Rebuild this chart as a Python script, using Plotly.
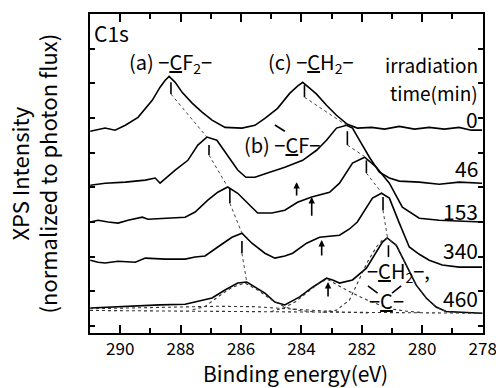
import plotly.graph_objects as go

# ---------------- data (binding energy eV, intensity a.u.) ----------------
times = ["0", "46", "153", "340", "460"]

E0 = [290.99, 290.50, 290.17, 289.83, 289.41, 288.94, 288.68, 288.51, 288.38, 288.18, 287.95, 287.62, 287.29, 286.96,
      286.53, 285.97, 285.54, 285.21, 284.79, 284.39, 284.13, 283.96, 283.73, 283.50, 283.17, 282.84, 282.48, 282.15,
      281.68, 281.25, 280.76, 280.26, 279.77, 279.27, 278.78, 278.38, 278.02]
I0 = [5.62, 5.71, 5.65, 5.79, 6.02, 6.51, 6.89, 7.09, 7.20, 7.03, 6.74, 6.43, 6.17, 5.94,
      5.73, 5.71, 5.79, 5.99, 6.28, 6.71, 6.92, 7.03, 6.86, 6.69, 6.37, 6.08, 5.82, 5.71,
      5.73, 5.68, 5.76, 5.68, 5.73, 5.68, 5.73, 5.65, 5.65]

E46 = [290.99, 290.50, 289.83, 289.17, 288.84, 288.68, 288.18, 287.76, 287.43, 287.13, 286.80, 286.44, 286.11, 285.84,
       285.54, 285.15, 284.55, 283.96, 283.50, 283.17, 282.84, 282.51, 282.31, 282.08, 281.75, 281.42, 281.09, 280.76,
       280.10, 279.44, 278.78, 278.02]
I46 = [4.06, 4.12, 4.15, 4.21, 4.27, 4.12, 4.50, 4.78, 5.22, 5.45, 5.36, 4.90, 4.50, 4.29,
       4.29, 4.41, 4.58, 4.78, 5.07, 5.36, 5.71, 5.79, 5.71, 5.36, 4.87, 4.44, 4.27, 4.18,
       4.15, 4.09, 4.15, 4.12]

E153 = [290.99, 290.73, 290.40, 290.07, 289.74, 289.27, 289.08, 288.51, 287.85, 287.52, 287.10, 286.77, 286.44, 286.11,
        285.78, 285.45, 284.98, 284.55, 284.13, 283.66, 283.07, 282.74, 282.31, 281.91, 281.52, 281.09, 280.66, 280.10,
        279.44, 278.78, 278.02]
I153 = [3.00, 3.05, 3.00, 2.97, 3.05, 3.14, 3.08, 3.11, 3.14, 3.29, 3.63, 3.86, 4.01, 3.83,
        3.54, 3.26, 3.26, 3.34, 3.57, 3.72, 3.86, 4.12, 4.70, 4.87, 4.58, 4.12, 3.43, 3.11,
        3.05, 3.03, 3.00]

E340 = [290.99, 290.73, 290.50, 290.07, 289.50, 289.17, 288.51, 287.85, 287.52, 287.19, 286.77, 286.30, 285.97, 285.64,
        285.21, 284.88, 284.55, 284.29, 283.83, 283.40, 282.74, 282.41, 282.15, 281.91, 281.65, 281.35, 281.09, 280.76,
        280.43, 280.10, 279.77, 279.34, 278.78, 278.02]
I340 = [1.90, 1.84, 1.82, 1.87, 1.84, 1.96, 1.93, 1.93, 1.99, 2.02, 2.28, 2.56, 2.68, 2.39,
        2.10, 1.96, 2.02, 2.10, 2.39, 2.56, 2.62, 2.80, 3.00, 3.34, 3.69, 3.83, 3.69, 2.97,
        2.28, 2.07, 1.90, 1.76, 1.70, 1.70]

E460 = [290.99, 290.33, 289.50, 288.68, 287.85, 287.36, 286.96, 286.53, 286.11, 285.81, 285.51, 285.21, 284.88, 284.55,
        284.06, 283.63, 283.17, 282.97, 282.74, 282.31, 281.85, 281.52, 281.32, 281.16, 280.86, 280.53, 280.20, 279.87,
        279.54, 279.21, 278.61, 278.02]
I460 = [0.52, 0.55, 0.58, 0.61, 0.63, 0.72, 0.81, 1.04, 1.24, 1.27, 1.12, 0.95, 0.69, 0.61,
        0.84, 1.12, 1.38, 1.33, 1.24, 1.33, 1.67, 2.13, 2.42, 2.54, 2.33, 1.76, 1.18, 0.81,
        0.55, 0.42, 0.40, 0.37]

# fitted components of the 460 min spectrum (dotted)
E_bg = [291.0, 286.0, 283.0, 278.0]
I_bg = [0.45, 0.42, 0.39, 0.37]
E_fitCF2 = [287.6, 287.2, 286.77, 286.30, 285.87, 285.45, 284.98, 284.55, 284.1, 283.6]
I_fitCF2 = [0.47, 0.56, 0.84, 1.12, 1.24, 1.04, 0.75, 0.55, 0.45, 0.41]
E_fitBroad = [291.0, 289.5, 288.0, 286.8, 285.6, 284.6, 283.6, 282.6, 281.8]
I_fitBroad = [0.50, 0.52, 0.55, 0.57, 0.56, 0.50, 0.44, 0.40, 0.38]
E_fitCF = [285.0, 284.6, 284.2, 283.8, 283.45, 283.15, 282.51, 281.98, 281.42, 280.99, 280.53, 280.0]
I_fitCF = [0.42, 0.52, 0.70, 0.97, 1.22, 1.35, 1.04, 0.81, 0.61, 0.49, 0.43, 0.39]
E_fitCH = [283.3, 282.84, 282.41, 282.08, 281.82, 281.52, 281.32, 281.16, 280.86, 280.53, 280.20, 279.87, 279.54, 279.21, 278.8]
I_fitCH = [0.40, 0.46, 0.75, 1.38, 1.84, 2.28, 2.48, 2.54, 2.33, 1.76, 1.18, 0.81, 0.55, 0.42, 0.38]

# peak markers: position, tick top, tick bottom (one per spectrum)
cf2_E = [288.32, 287.06, 286.37, 285.97]
cf2_top = [7.03, 5.22, 3.95, 2.45]
cf2_bot = [6.69, 4.93, 3.54, 2.10]
ch_E = [283.90, 282.48, 281.85, 281.30, 281.12]
ch_top = [6.95, 5.62, 4.78, 3.72, 2.33]
ch_bot = [6.60, 5.22, 4.41, 3.34, 1.99]
ch_peak = [7.03, 5.79, 4.87, 3.83, 2.54]
cf2_peak = [7.20, 5.45, 4.01, 2.68, 1.27]
cf2_peakE = [288.38, 287.13, 286.44, 285.97, 285.81]

# arrows marking the -CF- component: energy, tip, tail
arr_E = [284.16, 283.66, 283.33, 283.12]
arr_tip = [4.15, 3.72, 2.48, 1.27]
arr_tail = [3.72, 3.14, 1.99, 0.81]

label_y = [5.98, 4.55, 3.31, 2.19, 0.81]

xticks = [290, 288, 286, 284, 282, 280, 278]
yticks = [0, 1, 2, 3, 4, 5, 6, 7, 8]

FONT = "Noto Sans CJK JP"

fig = go.Figure()

# spectra
for E, I in [(E0, I0), (E46, I46), (E153, I153), (E340, I340), (E460, I460)]:
    fig.add_trace(go.Scatter(x=E, y=I, mode="lines", line=dict(color="black", width=1.6),
                             showlegend=False, hoverinfo="skip"))

# fit components
for E, I in [(E_bg, I_bg), (E_fitBroad, I_fitBroad), (E_fitCF2, I_fitCF2), (E_fitCF, I_fitCF), (E_fitCH, I_fitCH)]:
    fig.add_trace(go.Scatter(x=E, y=I, mode="lines", line=dict(color="#333333", width=1.1, dash="dot"),
                             showlegend=False, hoverinfo="skip"))

# short vertical peak ticks
tx, ty = [], []
for e, t, b in zip(cf2_E + ch_E, cf2_top + ch_top, cf2_bot + ch_bot):
    tx += [e, e, None]
    ty += [t, b, None]
fig.add_trace(go.Scatter(x=tx, y=ty, mode="lines", line=dict(color="black", width=1.6),
                         showlegend=False, hoverinfo="skip"))

# dotted tracking lines: tick bottom -> next peak top
dx, dy = [], []
for i in range(len(cf2_E)):
    dx += [cf2_E[i], cf2_peakE[i + 1], None]
    dy += [cf2_bot[i], cf2_peak[i + 1], None]
for i in range(len(ch_E) - 1):
    dx += [ch_E[i], ch_E[i + 1] + 0.03, None]
    dy += [ch_bot[i], ch_peak[i + 1], None]
fig.add_trace(go.Scatter(x=dx, y=dy, mode="lines", line=dict(color="#444444", width=1, dash="dot"),
                         showlegend=False, hoverinfo="skip"))

# arrows
for e, tip, tail in zip(arr_E, arr_tip, arr_tail):
    fig.add_annotation(x=e, y=tip, ax=e, ay=tail, axref="x", ayref="y", xref="x", yref="y",
                       showarrow=True, arrowhead=2, arrowsize=0.8, arrowwidth=1.6, arrowcolor="black", text="")

def txt(x, y, s, xanchor="left", size=20):
    fig.add_annotation(x=x, y=y, xref="x", yref="y", text=s, showarrow=False, xanchor=xanchor,
                       yanchor="middle", borderpad=0, font=dict(family=FONT, size=size, color="black"))

txt(290.89, 8.44, "C1s", size=21)
txt(289.74, 7.61, "(a) −<u>C</u>F<sub>2</sub>−")
txt(285.15, 7.61, "(c) −<u>C</u>H<sub>2</sub>−")
txt(285.94, 5.24, "(b) −<u>C</u>F−")
txt(278.12, 7.54, "irradiation", xanchor="right", size=19)
txt(278.12, 6.74, "time(min)", xanchor="right", size=19)
for lab, ly in zip(times, label_y):
    txt(278.12, ly, lab, xanchor="right", size=21)
txt(281.85, 1.56, "−<u>C</u>H<sub>2</sub>−,")
txt(281.80, 0.75, "−<u>C</u>−")

# bond strokes in chemical labels
for x0, y0, x1, y1 in [(284.88, 5.80, 284.55, 5.62), (281.80, 1.16, 281.48, 0.95), (281.0, 0.95, 280.7, 1.16)]:
    fig.add_shape(type="line", x0=x0, y0=y0, x1=x1, y1=y1, xref="x", yref="y", line=dict(color="black", width=1.6))

# axis titles
fig.add_annotation(x=-0.145, y=0.5, xref="paper", yref="paper", text="XPS Intensity<br>(normalized to photon flux)",
                   textangle=-90, showarrow=False, xanchor="center", yanchor="middle",
                   font=dict(family=FONT, size=22, color="black"))
fig.add_annotation(x=0.522, y=-0.125, xref="paper", yref="paper", text="Binding energy(eV)",
                   showarrow=False, xanchor="center", yanchor="middle",
                   font=dict(family=FONT, size=21, color="black"))

fig.update_xaxes(range=[291, 277.99], tickvals=xticks, ticktext=[str(v) for v in xticks], ticks="inside",
                 ticklen=8, tickwidth=1.5, tickcolor="black", showline=True, linecolor="black", linewidth=2,
                 mirror="allticks", showgrid=False, zeroline=False, ticklabeloverflow="allow", automargin=False,
                 minor=dict(tickvals=[291, 289, 287, 285, 283, 281, 279], ticks="inside", ticklen=5,
                            tickwidth=1.5, tickcolor="black", showgrid=False),
                 tickfont=dict(family=FONT, size=17, color="black"))
fig.update_yaxes(range=[-0.2, 9.0], tickvals=yticks, showticklabels=False, ticks="inside", ticklen=5,
                 tickwidth=1.5, tickcolor="black", showline=True, linecolor="black", linewidth=2,
                 mirror="allticks", showgrid=False, zeroline=False, automargin=False)

fig.update_layout(width=496, height=388, margin=dict(l=90, r=13, t=14, b=55, autoexpand=False),
                  paper_bgcolor="white", plot_bgcolor="white", showlegend=False)

fig.write_html("out.html", config={"displayModeBar": False},
               post_script="document.body.style.margin='0';document.body.style.padding='0';")
